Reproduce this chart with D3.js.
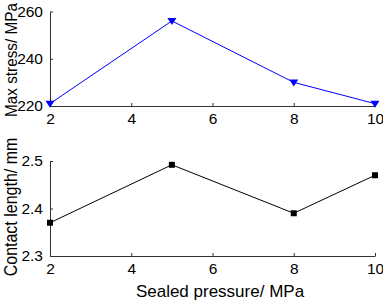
<!DOCTYPE html>
<html><head><meta charset="utf-8">
<script src="https://cdn.jsdelivr.net/npm/d3@7"></script>
<style>body{margin:0;background:#fff}svg{display:block}text{font-family:"Liberation Sans",Arial,sans-serif}</style>
</head><body>
<svg id="c" width="383" height="302"></svg>
<script>
const pressures = [2, 5, 8, 10];
const maxStress = [221, 256, 230, 221];
const contactLength = [2.37, 2.492, 2.39, 2.47];
const xTicks = [2, 4, 6, 8, 10];
const stressTicks = [220, 240, 260];
const lengthTicks = [2.3, 2.4, 2.5];

const svg = d3.select("#c");
const x = d3.scaleLinear().domain([2, 10]).range([50, 375]);
const yTop = d3.scaleLinear().domain([220, 260]).range([106, 11.5]);
const yBot = d3.scaleLinear().domain([2.3, 2.5]).range([256, 161]);
const fs = 15.5;

function panel(y, yticks, fmt, vals, color, symbol, label, labelY, labelFs) {
  const gx = svg.append("g").attr("transform", `translate(0,${y.range()[0]})`)
    .call(d3.axisBottom(x).tickValues(xTicks).tickSizeInner(-3).tickSizeOuter(0).tickPadding(7));
  gx.select(".domain").attr("stroke", "#333");
  gx.selectAll(".tick line").attr("stroke", "#333");
  gx.selectAll("text").attr("font-size", fs).attr("fill", "#000").attr("font-family", '"Liberation Sans",Arial,sans-serif');
  const gy = svg.append("g").attr("transform", `translate(${x.range()[0]},0)`)
    .call(d3.axisLeft(y).tickValues(yticks).tickFormat(fmt).tickSizeInner(-3).tickSizeOuter(0).tickPadding(7));
  gy.select(".domain").attr("stroke", "#333");
  gy.selectAll(".tick line").attr("stroke", "#333");
  gy.selectAll("text").attr("font-size", fs).attr("fill", "#000").attr("font-family", '"Liberation Sans",Arial,sans-serif');
  const data = pressures.map((p, i) => [p, vals[i]]);
  svg.append("path").datum(data)
    .attr("fill", "none").attr("stroke", color).attr("stroke-width", 1)
    .attr("d", d3.line().x(d => x(d[0])).y(d => y(d[1])));
  svg.append("g").selectAll("path").data(data).join("path")
    .attr("transform", d => `translate(${x(d[0])},${y(d[1])})`)
    .attr("d", symbol)
    .attr("fill", color);
  svg.append("text")
    .attr("transform", `translate(16.5,${labelY}) rotate(-90) scale(1,1.1)`)
    .attr("text-anchor", "middle").attr("font-size", labelFs).attr("fill", "#000")
    .text(label);
}

const tri = "M-4.5,-3 L4.5,-3 L0,4 Z";
const sq = "M-3,-3 L3,-3 L3,3 L-3,3 Z";
panel(yTop, stressTicks, d3.format("d"), maxStress, "#0000ff", tri, "Max stress/ MPa", 60, 15.3);
panel(yBot, lengthTicks, d3.format(".1f"), contactLength, "#000", sq, "Contact length/ mm", 207, 16);

svg.append("text").attr("x", 220).attr("y", 297).attr("text-anchor", "middle")
  .attr("font-size", 17).attr("fill", "#000").text("Sealed pressure/ MPa");
</script>
</body></html>
